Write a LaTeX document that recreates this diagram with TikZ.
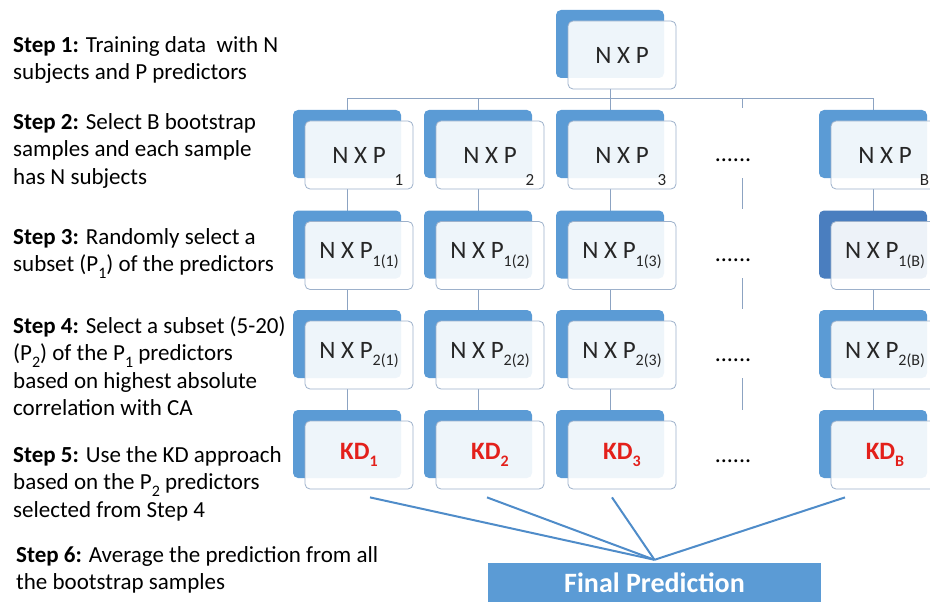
\documentclass[tikz,border=0pt]{standalone}
\usepackage{fontspec}
\setmainfont{Carlito}
\usepackage{tikz}
\usetikzlibrary{positioning,calc,shadows,backgrounds}
\definecolor{bsBlue}{HTML}{5B9BD5}
\definecolor{bsBlueDark}{HTML}{4A7EBF}
\definecolor{bsEdge}{HTML}{9DB1CB}
\definecolor{bsLine}{HTML}{8CA3C2}
\definecolor{bsFlow}{HTML}{4F8CC9}
\definecolor{bsRed}{HTML}{E3201B}
\definecolor{bsText}{HTML}{262626}
\newcommand{\sbs}[1]{\raisebox{-0.3em}{\fontsize{16}{16}\selectfont #1}}
\tikzset{
  card/.style={rounded corners=5pt, draw=bsEdge, line width=0.8pt, fill=white, fill opacity=0.9, text opacity=1,
    minimum width=108pt, minimum height=68pt, inner sep=0pt, text=bsText, font=\fontsize{25}{25}\selectfont,
    general shadow={fill=#1, fill opacity=1, draw=none, shadow xshift=-12pt, shadow yshift=11pt}},
  card/.default=bsBlue,
  tag/.style={anchor=south east, inner sep=0pt, xshift=-10pt, yshift=4pt, text=bsText, text opacity=1, font=\fontsize{17}{17}\selectfont},
  dots/.style={inner sep=0pt, text=black, font=\fontsize{24}{24}\selectfont},
  stepbox/.style={anchor=north west, align=left, inner sep=0pt, text=black, font=\fontsize{23}{27.5}\selectfont},
  final/.style={fill=bsBlue, text=white, font=\bfseries\fontsize{28}{28}\selectfont, minimum width=333pt, minimum height=40pt, inner sep=0pt},
  link/.style={draw=bsLine, line width=1pt},
  flow/.style={draw=bsFlow, line width=2pt}
}
\begin{document}
\begin{tikzpicture}[x=1pt,y=-1pt]
  \useasboundingbox (0,0) rectangle (930,602);
  \clip (0,0) rectangle (930,602);
  % steps on the left
  \node[stepbox] (st1) at (13,36) {\textbf{Step 1:} Training data~ with N\\subjects and P predictors};
  \node[stepbox] (st2) at (13,113) {\textbf{Step 2:} Select B bootstrap\\samples and each sample\\has N subjects};
  \node[stepbox] (st3) at (13,228) {\textbf{Step 3:} Randomly select a\\subset (P\sbs{1}) of the predictors};
  \node[stepbox] (st4) at (13,316) {\textbf{Step 4:} Select a subset (5-20)\\(P\sbs{2}) of the P\sbs{1} predictors\\based on highest absolute\\correlation with CA};
  \node[stepbox] (st5) at (13,446) {\textbf{Step 5:} Use the KD approach\\based on the P\sbs{2} predictors\\selected from Step 4};
  \node[stepbox] (st6) at (16,546) {\textbf{Step 6:} Average the prediction from all\\the bootstrap samples};
  % cards
  \node[card] (top) at (622,55) {N X P};
  \node[card, label={[tag]south east:1}] (boot1) at (359,155) {N X P};
  \node[card, label={[tag]south east:2}] (boot2) at (490,155) {N X P};
  \node[card, label={[tag]south east:3}] (boot3) at (622,155) {N X P};
  \node[card, label={[tag]south east:B}] (bootb) at (885,155) {N X P};
  \node[card] (subA1) at (359,255.5) {N X P\sbs{1(1)}};
  \node[card] (subA2) at (490,255.5) {N X P\sbs{1(2)}};
  \node[card] (subA3) at (622,255.5) {N X P\sbs{1(3)}};
  \node[card=bsBlueDark] (subAb) at (885,255.5) {N X P\sbs{1(B)}};
  \node[card] (subB1) at (359,355) {N X P\sbs{2(1)}};
  \node[card] (subB2) at (490,355) {N X P\sbs{2(2)}};
  \node[card] (subB3) at (622,355) {N X P\sbs{2(3)}};
  \node[card] (subBb) at (885,355) {N X P\sbs{2(B)}};
  \node[card] (kd1) at (359,455) {\textcolor{bsRed}{\bfseries KD\sbs{1}}};
  \node[card] (kd2) at (490,455) {\textcolor{bsRed}{\bfseries KD\sbs{2}}};
  \node[card] (kd3) at (622,455) {\textcolor{bsRed}{\bfseries KD\sbs{3}}};
  \node[card] (kdb) at (885,455) {\textcolor{bsRed}{\bfseries KD\sbs{B}}};
  \node[dots] (d2) at (733,160) {......};
  \node[dots] (d3) at (733,260) {......};
  \node[dots] (d4) at (733,360) {......};
  \node[dots] (d5) at (733,461) {......};
  \node[final] (fin) at (654.5,583) {Final Prediction};
  % connectors
  \begin{scope}[on background layer]
    \draw[link] ([xshift=-12pt]top.south) -- ++(0,9) coordinate (hub);
    \coordinate (tick) at (742,108);
    \draw[link] (hub) -| ([xshift=-12pt]boot1.north);
    \draw[link] (hub) -| ([xshift=-12pt]boot2.north);
    \draw[link] (hub) -| ([xshift=-12pt]boot3.north);
    \draw[link] (hub) -| (tick);
    \draw[link] (hub) -| ([xshift=-12pt]bootb.north);
    \draw[link] ([xshift=-12pt]boot1.south) -- ([xshift=-12pt]subA1.north);
    \draw[link] ([xshift=-12pt]boot2.south) -- ([xshift=-12pt]subA2.north);
    \draw[link] ([xshift=-12pt]boot3.south) -- ([xshift=-12pt]subA3.north);
    \draw[link] ([xshift=-12pt]bootb.south) -- ([xshift=-12pt]subAb.north);
    \draw[link] ([xshift=-12pt]subA1.south) -- ([xshift=-12pt]subB1.north);
    \draw[link] ([xshift=-12pt]subA2.south) -- ([xshift=-12pt]subB2.north);
    \draw[link] ([xshift=-12pt]subA3.south) -- ([xshift=-12pt]subB3.north);
    \draw[link] ([xshift=-12pt]subAb.south) -- ([xshift=-12pt]subBb.north);
    \draw[link] ([xshift=-12pt]subB1.south) -- ([xshift=-12pt]kd1.north);
    \draw[link] ([xshift=-12pt]subB2.south) -- ([xshift=-12pt]kd2.north);
    \draw[link] ([xshift=-12pt]subB3.south) -- ([xshift=-12pt]kd3.north);
    \draw[link] ([xshift=-12pt]subBb.south) -- ([xshift=-12pt]kdb.north);
  \end{scope}
  \draw[link] ([shift={(9,18)}]d2.center) -- ([shift={(9,-51)}]d3.center);
  \draw[link] ([shift={(9,18)}]d3.center) -- ([shift={(9,-51)}]d4.center);
  \draw[link] ([shift={(9,18)}]d4.center) -- ([shift={(9,-51)}]d5.center);
  \draw[flow] ([shift={(11,8)}]kd1.south) -- ([shift={(0,-3)}]fin.north);
  \draw[flow] ([shift={(-3,8)}]kd2.south) -- ([shift={(0,-3)}]fin.north);
  \draw[flow] ([shift={(-10,8)}]kd3.south) -- ([shift={(0,-3)}]fin.north);
  \draw[flow] ([shift={(-40,8)}]kdb.south) -- ([shift={(0,-3)}]fin.north);
\end{tikzpicture}
\end{document}
